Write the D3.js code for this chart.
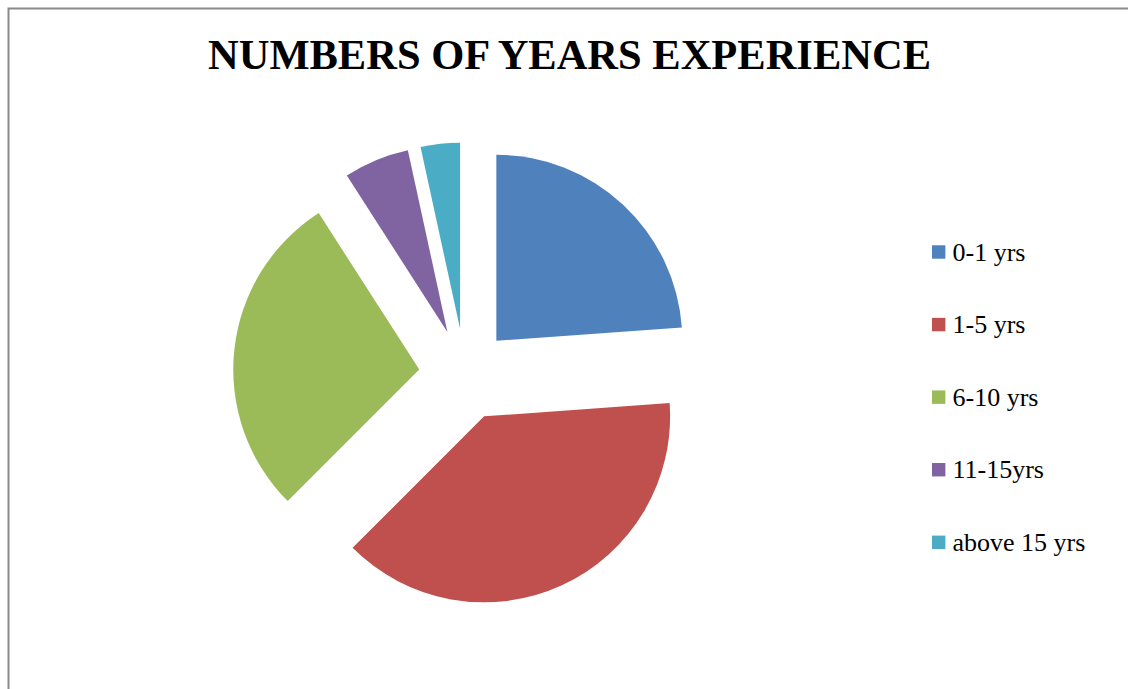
<!DOCTYPE html>
<html>
<head>
<meta charset="utf-8">
<script src="https://cdn.jsdelivr.net/npm/d3@7"></script>
<style>
  html, body { margin: 0; padding: 0; background: #fff; overflow: hidden; }
  svg { display: block; }
</style>
</head>
<body>
<svg id="chart" width="1128" height="689"></svg>
<script>
// Respondents grouped by years of experience
const categories = ["0-1 yrs", "1-5 yrs", "6-10 yrs", "11-15yrs", "above 15 yrs"];
const counts = [21, 34, 25, 5, 3];
const colors = ["#4F81BD", "#C0504D", "#9BBB59", "#8064A2", "#4BACC6"];
const title = "NUMBERS OF YEARS EXPERIENCE";

const svg = d3.select("#chart");

// Chart area frame (extends past the right and bottom edges)
svg.append("rect")
  .attr("x", 8.5).attr("y", 8.5)
  .attr("width", 1200).attr("height", 800)
  .attr("fill", "#fff")
  .attr("stroke", "#8a8a8a")
  .attr("stroke-width", 2);

// Title
svg.append("text")
  .attr("x", 569.5).attr("y", 69)
  .attr("text-anchor", "middle")
  .attr("font-family", "'Liberation Serif', 'Times New Roman', serif")
  .attr("font-weight", "bold")
  .attr("font-size", 42.5)
  .attr("fill", "#000")
  .text(title);

// Exploded pie
const cx = 465, cy = 374.5, radius = 186, explode = 46;
const pie = d3.pie().sort(null).value(d => d);
const arc = d3.arc().innerRadius(0).outerRadius(radius);
const color = d3.scaleOrdinal().domain(categories).range(colors);

const g = svg.append("g").attr("transform", `translate(${cx},${cy})`);
g.selectAll("path")
  .data(pie(counts))
  .join("path")
  .attr("d", arc)
  .attr("fill", (d, i) => color(categories[i]))
  .attr("transform", d => {
    const mid = (d.startAngle + d.endAngle) / 2;
    return `translate(${explode * Math.sin(mid)},${-explode * Math.cos(mid)})`;
  });

// Legend
const legendY = d3.scalePoint().domain(categories).range([252, 542.3]);
const legend = svg.append("g");
const items = legend.selectAll("g")
  .data(categories)
  .join("g")
  .attr("transform", d => `translate(932,${legendY(d)})`);
items.append("rect")
  .attr("x", 0).attr("y", -6.7)
  .attr("width", 13.4).attr("height", 13.4)
  .attr("fill", d => color(d));
items.append("text")
  .attr("x", 20.5).attr("y", 8.7)
  .attr("font-family", "'Liberation Serif', 'Times New Roman', serif")
  .attr("font-size", 26)
  .attr("fill", "#000")
  .text(d => d);
</script>
</body>
</html>
